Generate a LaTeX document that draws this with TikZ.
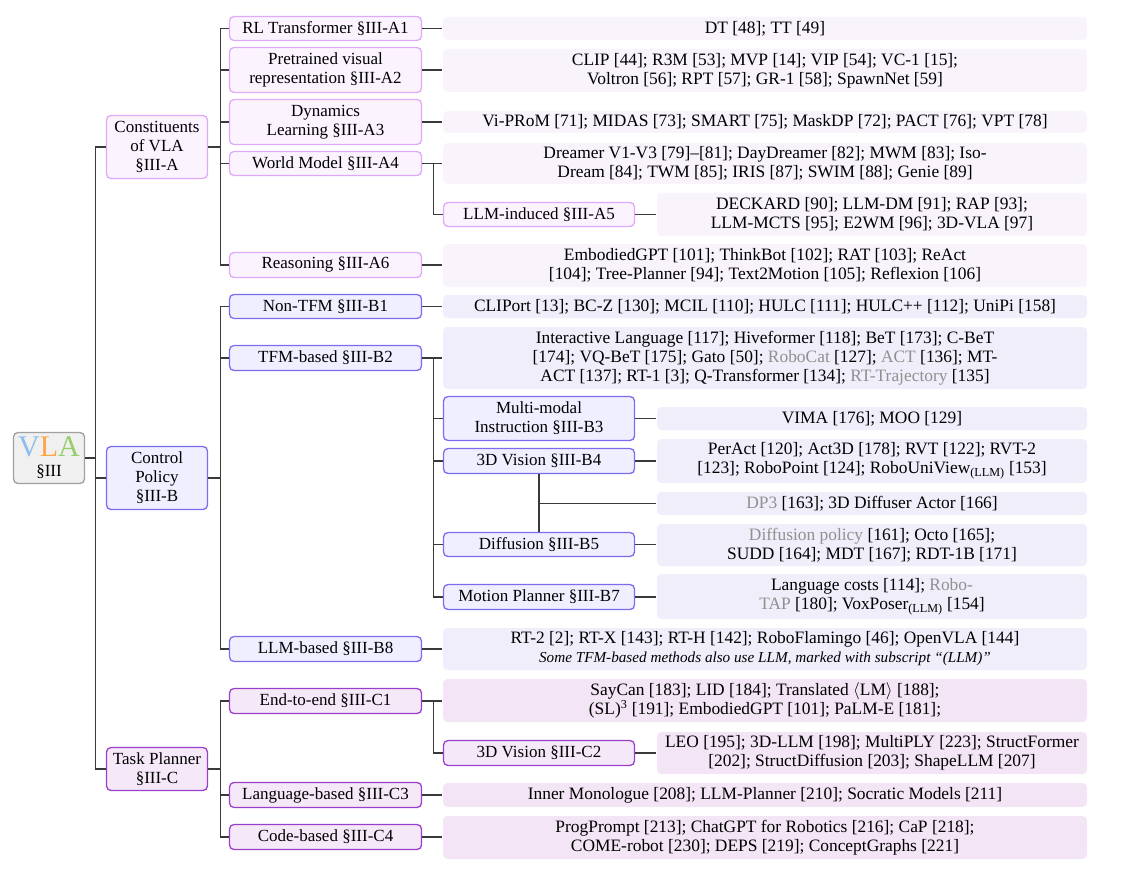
\documentclass[tikz,border=0pt]{standalone}
\usepackage{fontspec}
\setmainfont{Liberation Serif}
\usetikzlibrary{calc}
\definecolor{bA}{HTML}{DCAAF7}
\definecolor{fA}{HTML}{FBF4FF}
\definecolor{lfA}{HTML}{F9F3FC}
\definecolor{bB}{HTML}{7B6CEE}
\definecolor{fB}{HTML}{F0EFFF}
\definecolor{lfB}{HTML}{EFEEFA}
\definecolor{bC}{HTML}{9A3FCC}
\definecolor{fC}{HTML}{F5E9F9}
\definecolor{lfC}{HTML}{F3E5F5}
\definecolor{bR}{HTML}{A0A0A0}
\definecolor{fR}{HTML}{F0F0F0}
\definecolor{vlaV}{HTML}{8DBDEE}
\definecolor{vlaL}{HTML}{FFA547}
\definecolor{vlaA}{HTML}{96CF6A}
\definecolor{gtext}{HTML}{909090}
\definecolor{lineC}{HTML}{3A3A3A}
\newcommand\grtxt[1]{\textcolor{gtext}{#1}}
\begin{document}
\begin{tikzpicture}[x=1pt,y=-1pt,
  fnt/.style={font=\fontsize{17}{19}\selectfont},
  lfnt/.style={font=\fontsize{17.4}{19}\selectfont},
  box/.style={fnt, rounded corners=4.5pt, line width=1.3pt, align=center, inner sep=0pt},
  lv1/.style={box, minimum width=101pt},
  lv2/.style={box, minimum width=192pt},
  lv3/.style={box, minimum width=191pt},
  wide/.style={box, lfnt, draw=none, minimum width=644pt},
  narrow/.style={box, lfnt, draw=none, minimum width=430pt},
  sA/.style={draw=bA, fill=fA},
  sB/.style={draw=bB, fill=fB},
  sC/.style={draw=bC, fill=fC},
  lA/.style={fill=lfA},
  lB/.style={fill=lfB},
  lC/.style={fill=lfC},
  conn/.style={draw=lineC, line width=1.1pt}
]
\useasboundingbox (0,0) rectangle (1129,869);

% root
\node[box, draw=bR, fill=fR, minimum width=71pt, minimum height=51pt] (vla) at (49,458)
  {{\fontsize{30}{26}\selectfont\textcolor{vlaV}{V}\textcolor{vlaL}{L}\textcolor{vlaA}{A}}\\[1pt]§III};

% level 1
\node[lv1,sA,minimum height=63pt] (conA) at (157,147) {Constituents\\of VLA\\§III-A};
\node[lv1,sB,minimum height=63pt] (conB) at (157,478) {Control\\Policy\\§III-B};
\node[lv1,sC,minimum height=43pt] (conC) at (157,769) {Task Planner\\§III-C};

% level 2 - A
\node[lv2,sA,minimum height=24pt] (a1) at (325.5,28.5) {RL Transformer §III-A1};
\node[lv2,sA,minimum height=45pt] (a2) at (325.5,70) {Pretrained visual\\representation §III-A2};
\node[lv2,sA,minimum height=45pt] (a3) at (325.5,122) {Dynamics\\Learning §III-A3};
\node[lv2,sA,minimum height=24pt] (a4) at (325.5,163.5) {World Model §III-A4};
\node[lv2,sA,minimum height=25pt] (a6) at (325.5,265) {Reasoning §III-A6};
\node[lv3,sA,minimum height=24pt] (a5) at (539,214.5) {LLM-induced §III-A5};

% level 2 - B
\node[lv2,sB,minimum height=24pt] (b1) at (325.5,306.5) {Non-TFM §III-B1};
\node[lv2,sB,minimum height=25pt] (b2) at (325.5,358) {TFM-based §III-B2};
\node[lv2,sB,minimum height=25pt] (b8) at (325.5,649) {LLM-based §III-B8};
\node[lv3,sB,minimum height=44pt] (b3) at (539,418.5) {Multi-modal\\Instruction §III-B3};
\node[lv3,sB,minimum height=25pt] (b4) at (539,461) {3D Vision §III-B4};
\node[lv3,sB,minimum height=24pt] (b5) at (539,544.5) {Diffusion §III-B5};
\node[lv3,sB,minimum height=25pt] (b7) at (539,597) {Motion Planner §III-B7};

% level 2 - C
\node[lv2,sC,minimum height=25pt] (c1) at (325.5,701) {End-to-end §III-C1};
\node[lv2,sC,minimum height=25pt] (c3) at (325.5,795) {Language-based §III-C3};
\node[lv2,sC,minimum height=25pt] (c4) at (325.5,837) {Code-based §III-C4};
\node[lv3,sC,minimum height=25pt] (c2) at (539,753) {3D Vision §III-C2};

% leaves A
\node[wide,lA,minimum height=23pt] (la1) at (765,28.5) {DT [48]; TT [49]};
\node[wide,lA,minimum height=43pt] (la2) at (765,70.5) {CLIP [44]; R3M [53]; MVP [14]; VIP [54]; VC-1 [15];\\Voltron [56]; RPT [57]; GR-1 [58]; SpawnNet [59]};
\node[wide,lA,minimum height=22pt] (la3) at (765,122) {Vi-PRoM [71]; MIDAS [73]; SMART [75]; MaskDP [72]; PACT [76]; VPT [78]};
\node[wide,lA,minimum height=41pt] (la4) at (765,163.5) {Dreamer V1-V3 [79]--[81]; DayDreamer [82]; MWM [83]; Iso-\\Dream [84]; TWM [85]; IRIS [87]; SWIM [88]; Genie [89]};
\node[narrow,lA,minimum height=43pt] (la5) at (872,214.5) {DECKARD [90]; LLM-DM [91]; RAP [93];\\LLM-MCTS [95]; E2WM [96]; 3D-VLA [97]};
\node[wide,lA,minimum height=43pt] (la6) at (765,265.5) {EmbodiedGPT [101]; ThinkBot [102]; RAT [103]; ReAct\\{}[104]; Tree-Planner [94]; Text2Motion [105]; Reflexion [106]};

% leaves B
\node[wide,lB,minimum height=23pt] (lb1) at (765,306.5) {CLIPort [13]; BC-Z [130]; MCIL [110]; HULC [111]; HULC++ [112]; UniPi [158]};
\node[wide,lB,minimum height=62pt] (lb2) at (765,358) {Interactive Language [117]; Hiveformer [118]; BeT [173]; C-BeT\\{}[174]; VQ-BeT [175]; Gato [50]; \grtxt{RoboCat} [127]; \grtxt{ACT} [136]; MT-\\ACT [137]; RT-1 [3]; Q-Transformer [134]; \grtxt{RT-Trajectory} [135]};
\node[narrow,lB,minimum height=23pt] (lb3) at (872,418.5) {VIMA [176]; MOO [129]};
\node[narrow,lB,minimum height=44pt] (lb4) at (872,461) {PerAct [120]; Act3D [178]; RVT [122]; RVT-2\\{}[123]; RoboPoint [124]; RoboUniView\textsubscript{(LLM)} [153]};
\node[narrow,lB,minimum height=23pt] (lb45) at (872,503.5) {\grtxt{DP3} [163]; 3D Diffuser Actor [166]};
\node[narrow,lB,minimum height=42pt] (lb5) at (872,545) {\grtxt{Diffusion policy} [161]; Octo [165];\\SUDD [164]; MDT [167]; RDT-1B [171]};
\node[narrow,lB,minimum height=45pt] (lb7) at (872,596.5) {Language costs [114]; \grtxt{Robo-}\\\grtxt{TAP} [180]; VoxPoser\textsubscript{(LLM)} [154]};
\node[wide,lB,minimum height=42pt] (lb8) at (765,649) {RT-2 [2]; RT-X [143]; RT-H [142]; RoboFlamingo [46]; OpenVLA [144]\\{\fontsize{15.2}{17}\selectfont\itshape Some TFM-based methods also use LLM, marked with subscript ``(LLM)''}};

% leaves C
\node[wide,lC,minimum height=43pt] (lc1) at (765,700.5) {SayCan [183]; LID [184]; Translated $\langle$LM$\rangle$ [188];\\(SL)\textsuperscript{3} [191]; EmbodiedGPT [101]; PaLM-E [181];};
\node[narrow,lC,minimum height=42pt] (lc2) at (872,753) {LEO [195]; 3D-LLM [198]; MultiPLY [223]; StructFormer\\{}[202]; StructDiffusion [203]; ShapeLLM [207]};
\node[wide,lC,minimum height=24pt] (lc3) at (765,795) {Inner Monologue [208]; LLM-Planner [210]; Socratic Models [211]};
\node[wide,lC,minimum height=43pt] (lc4) at (765,837.5) {ProgPrompt [213]; ChatGPT for Robotics [216]; CaP [218];\\COME-robot [230]; DEPS [219]; ConceptGraphs [221]};

% root connectors
\draw[conn] (conA.west) -- ++(-10,0) coordinate (rt) |- (conC.west);
\draw[conn] (conB.west) -- (conB.west -| rt);
\draw[conn] (vla.east) -- (vla.east -| rt);

% A connectors
\draw[conn] (conA.east) -- ++(12,0) coordinate (ta);
\draw[conn] (a1.west) -- (a1.west -| ta) |- (a6.west);
\foreach \n in {a2,a3,a4} \draw[conn] (\n.west) -- (\n.west -| ta);
\foreach \n/\m in {a1/la1,a2/la2,a3/la3,a4/la4,a6/la6,a5/la5} \draw[conn] (\n.east) -- (\n.east -| \m.west);
\draw[conn] (a4.east) -- ++(11,0) |- (a5.west);

% B connectors
\draw[conn] (conB.east) -- ++(12,0) coordinate (tb);
\draw[conn] (b1.west) -- (b1.west -| tb) |- (b8.west);
\draw[conn] (b2.west) -- (b2.west -| tb);
\foreach \n/\m in {b1/lb1,b2/lb2,b8/lb8,b3/lb3,b4/lb4,b5/lb5,b7/lb7} \draw[conn] (\n.east) -- (\n.east -| \m.west);
\draw[conn] (b2.east) -- ++(11,0) coordinate (tb2) |- (b7.west);
\foreach \n in {b3,b4,b5} \draw[conn] (\n.west) -- (\n.west -| tb2);
\draw[conn] (b4.south) -- (b5.north);
\draw[conn] (lb45.west -| b4.south) -- (lb45.west);

% C connectors
\draw[conn] (conC.east) -- ++(12,0) coordinate (tc);
\draw[conn] (c1.west) -- (c1.west -| tc) |- (c4.west);
\draw[conn] (c3.west) -- (c3.west -| tc);
\foreach \n/\m in {c1/lc1,c3/lc3,c4/lc4,c2/lc2} \draw[conn] (\n.east) -- (\n.east -| \m.west);
\draw[conn] (c1.east) -- ++(11,0) |- (c2.west);
\end{tikzpicture}
\end{document}
